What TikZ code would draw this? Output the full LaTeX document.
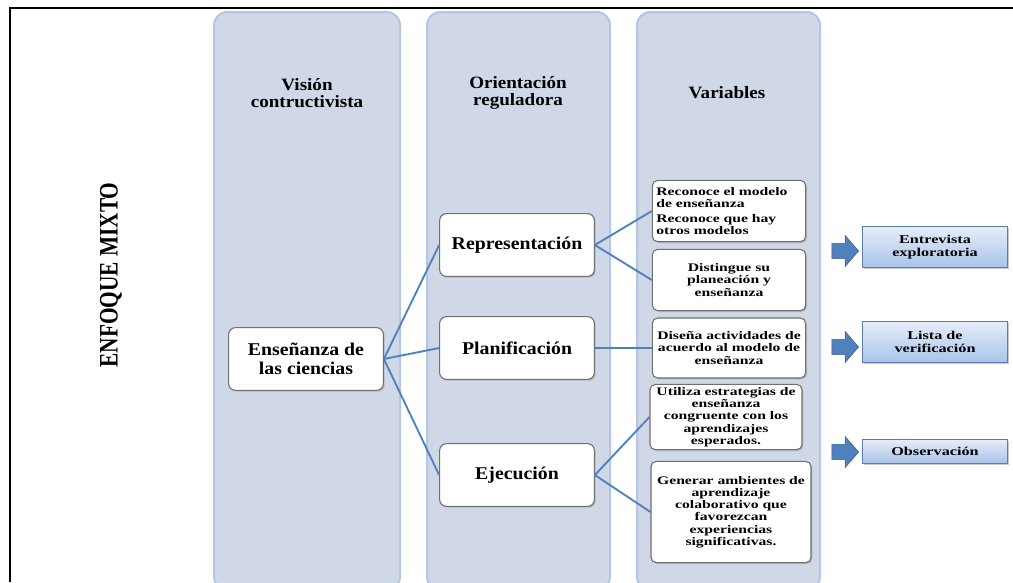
\documentclass[tikz,border=0pt]{standalone}
\usepackage{fontspec}
\setmainfont{Liberation Serif}
\newfontfamily\headserif{Liberation Serif}[FakeStretch=1.1]
\newfontfamily\wideserif{Liberation Serif}[FakeStretch=1.35]
\newfontfamily\narrowserif{Liberation Serif}[FakeStretch=0.8]
\usetikzlibrary{shadows,shapes.arrows}

\definecolor{colfill}{HTML}{D0D8E8}
\definecolor{colline}{HTML}{B3C6E3}
\definecolor{linkblue}{HTML}{4F81BD}
\definecolor{boxline}{HTML}{707070}
\definecolor{tooltop}{HTML}{E6EEF9}
\definecolor{toolbot}{HTML}{A9C3EA}
\definecolor{toolline}{HTML}{5C7CAA}

\tikzset{
	column/.style={draw=colline, line width=1.5pt, fill=colfill, rounded corners=10pt},
	header/.style={font=\headserif\bfseries\fontsize{13}{13}\selectfont, align=center},
	mainbox/.style={draw=boxline, fill=white, rounded corners=5pt, line width=0.8pt,
		drop shadow={opacity=0.4, shadow xshift=1pt, shadow yshift=-1pt},
		minimum width=116pt, minimum height=47pt, inner sep=2pt,
		font=\headserif\bfseries\fontsize{13.5}{14}\selectfont, align=center},
	varbox/.style={draw=boxline, fill=white, rounded corners=4pt, line width=0.8pt,
		drop shadow={opacity=0.4, shadow xshift=1pt, shadow yshift=-1pt},
		inner xsep=3pt, inner ysep=2pt,
		font=\wideserif\bfseries\fontsize{8.7}{9.2}\selectfont},
	toolbox/.style={draw=toolline, top color=tooltop, bottom color=toolbot, line width=0.6pt,
		drop shadow={opacity=0.4, shadow xshift=1.2pt, shadow yshift=-1.2pt},
		minimum width=109pt, inner sep=1pt,
		font=\wideserif\bfseries\fontsize{9}{9.5}\selectfont, align=center},
	blockarrow/.style={single arrow, fill=linkblue, draw=linkblue!75!black, line width=0.4pt,
		inner xsep=0pt, inner ysep=5.5pt, minimum height=20pt,
		single arrow head extend=6pt, single arrow tip angle=98},
	link/.style={draw=linkblue, line width=1.4pt}
}

\begin{document}
\begin{tikzpicture}[x=0.75pt, y=-0.75pt]
			%%%%% START %%%%%
			\useasboundingbox (0,0) rectangle (1013,582);
			
			\draw[line width=2.2pt] (10,582) -- (10,8) -- (1013,8);
			
			\node[font=\narrowserif\bfseries\fontsize{20}{20}\selectfont, rotate=90] (enfoque) at (111,275) {ENFOQUE MIXTO};
			
			\draw[column] (214,12) rectangle (400,590);
			\draw[column] (427,12) rectangle (610,590);
			\draw[column] (637,12) rectangle (820,590);
			
			\node[header] (vision) at (307,93) {Visión\\contructivista};
			\node[header] (orient) at (518,93) {Orientación\\reguladora};
			\node[header] (vars) at (727,93) {Variables};
			
			\node[mainbox] (ense) at (306,359) {Enseñanza de\\las ciencias};
			\node[mainbox] (repr) at (517,245) {Representación};
			\node[mainbox] (plan) at (517,348) {Planificación};
			\node[mainbox] (ejec) at (517,475) {Ejecución};
			
			\node[varbox, text width=109pt, minimum height=46pt, align=left] (recon) at (729,211)
				{Reconoce el modelo\\de enseñanza\\[2pt]Reconoce que hay\\otros modelos};
			\node[varbox, text width=109pt, minimum height=46pt, align=center] (disting) at (729,280)
				{Distingue su\\planeación y\\enseñanza};
			\node[varbox, text width=109pt, minimum height=45pt, align=center] (disena) at (729,348)
				{Diseña actividades de\\acuerdo al modelo de\\enseñanza};
			\node[varbox, text width=108pt, minimum height=49pt, align=center] (utiliza) at (726,417)
				{Utiliza estrategias de\\enseñanza\\congruente con los\\aprendizajes\\esperados.};
			\node[varbox, text width=114pt, minimum height=76pt, align=center] (generar) at (731,512)
				{Generar ambientes de\\aprendizaje\\colaborativo que\\favorezcan\\experiencias\\significativas.};
			
			\draw[link] (ense.east) -- (repr.west);
			\draw[link] (ense.east) -- (plan.west);
			\draw[link] (ense.east) -- (ejec.west);
			\draw[link] (repr.east) -- (recon.west);
			\draw[link] (repr.east) -- (disting.west);
			\draw[link] (plan.east) -- (disena.west);
			\draw[link] (ejec.east) -- (utiliza.west);
			\draw[link] (ejec.east) -- (generar.west);
			
			\node[blockarrow] (flecha1) at (842,251) {};
			\node[blockarrow] (flecha2) at (842,347) {};
			\node[blockarrow] (flecha3) at (842,452) {};
			
			\node[toolbox, minimum height=31pt] (entrev) at (935,247) {Entrevista\\exploratoria};
			\node[toolbox, minimum height=31pt] (lista) at (935,342) {Lista de\\verificación};
			\node[toolbox, minimum height=18pt] (observ) at (935,451) {Observación};
			
			%%%%% END %%%%%
\end{tikzpicture}
\end{document}
